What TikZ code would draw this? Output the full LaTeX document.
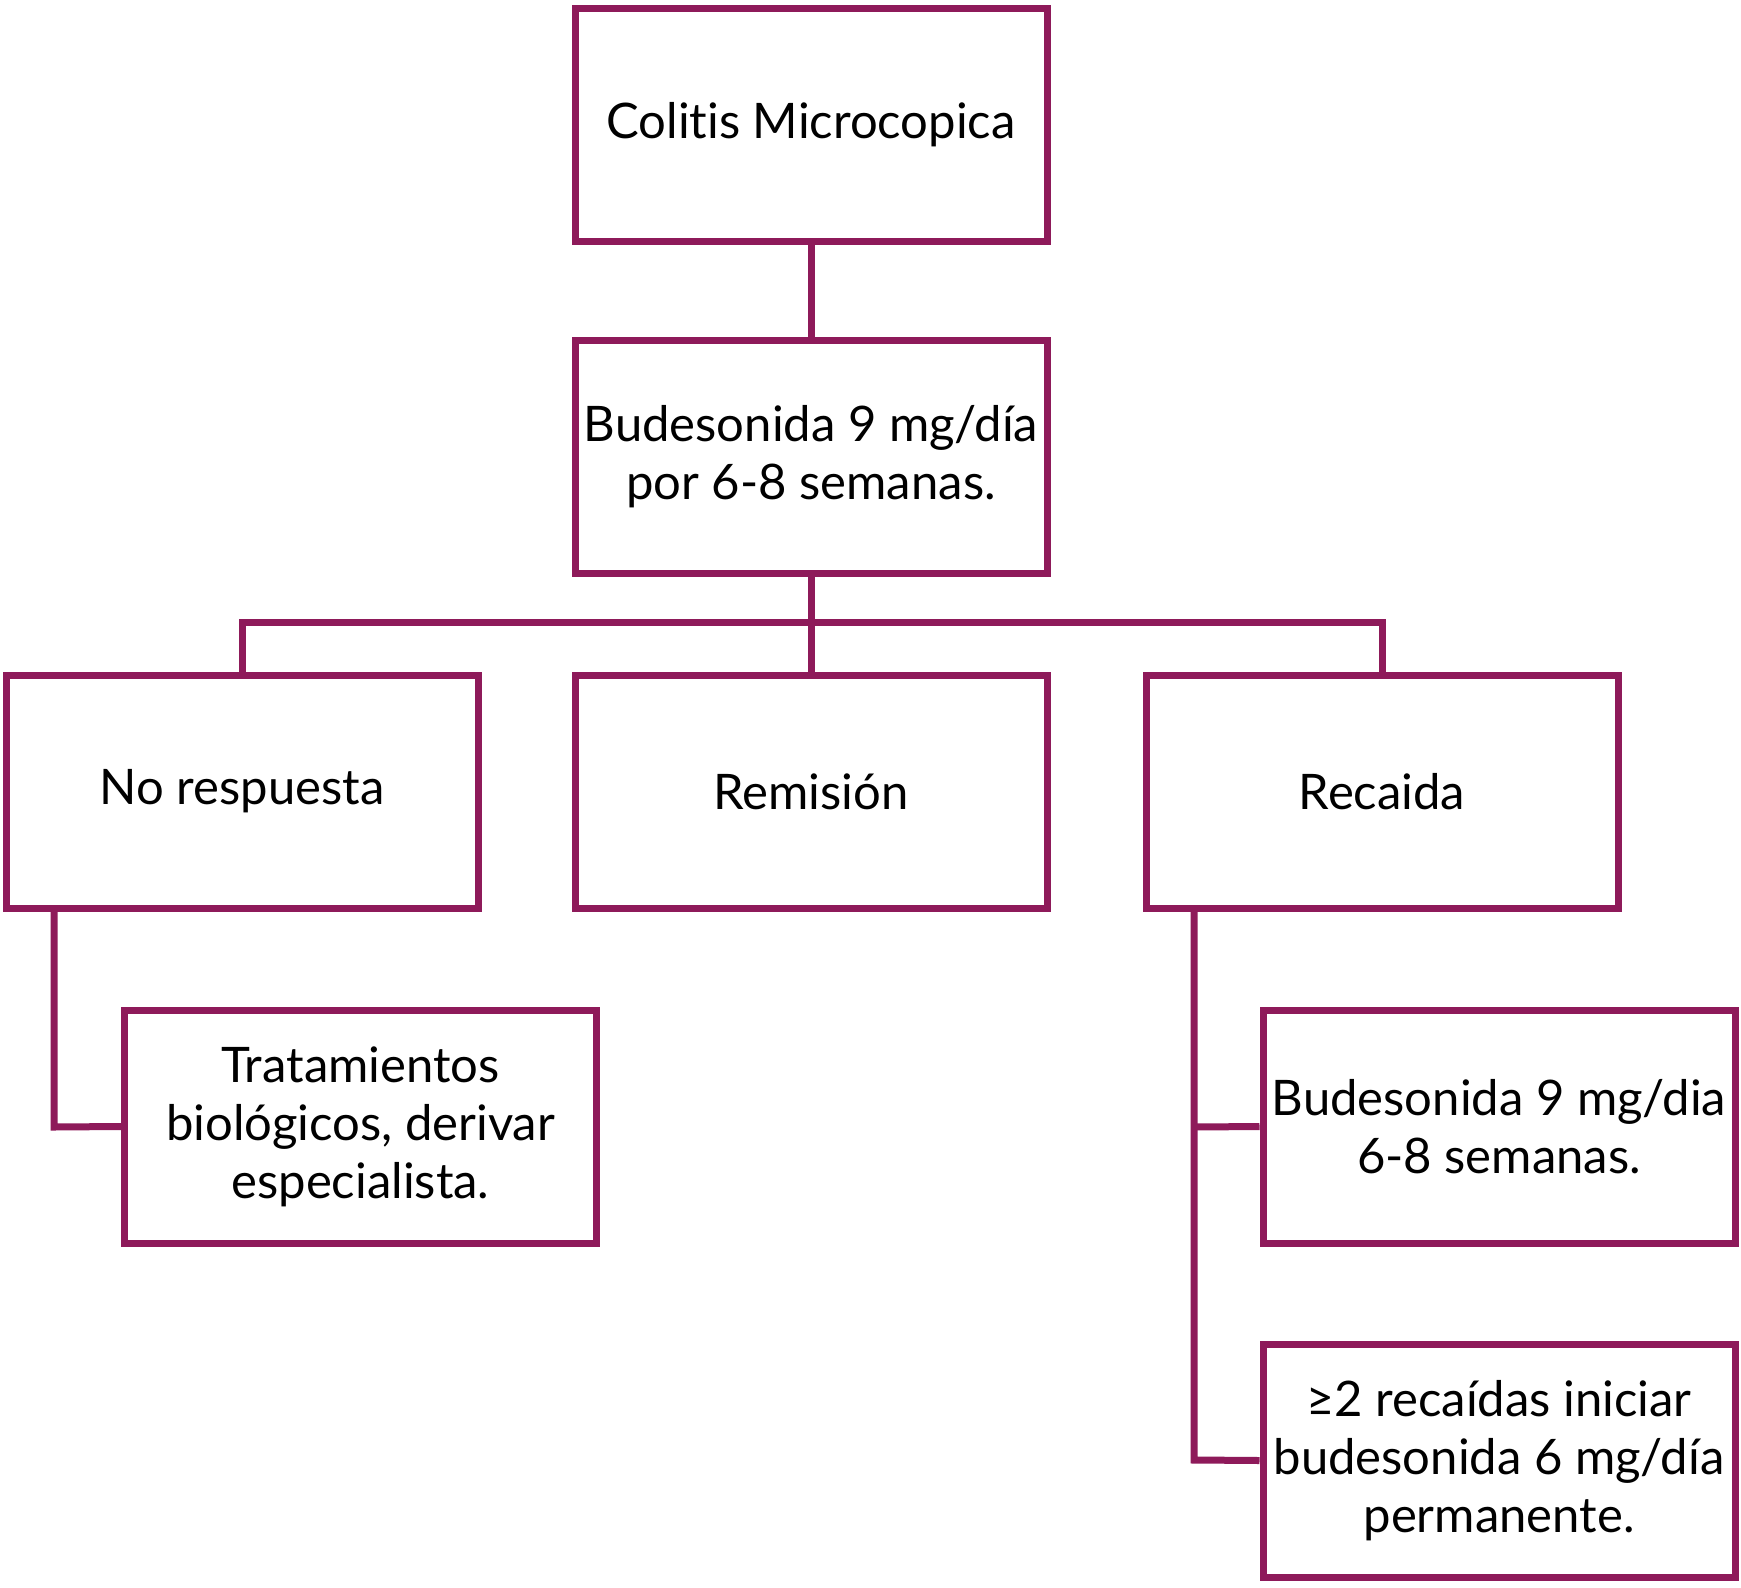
\documentclass[tikz,border=0pt]{standalone}
\usepackage{fontspec}
\setmainfont[Ligatures={NoCommon,NoRequired,NoContextual}]{Lato}
\definecolor{plum}{HTML}{8E1A5A}
\begin{document}
\begin{tikzpicture}[x=1pt,y=-1pt,
  box/.style={draw=plum,line width=7pt,fill=white,align=center,inner sep=2pt,
    minimum width=472pt,minimum height=233pt,font=\fontsize{49}{58}\selectfont},
  link/.style={draw=plum,line width=7pt}]
\useasboundingbox[fill=white] (0,0) rectangle (1741,1588);
\node[box] (top) at (811,124.5) {Colitis Microcopica};
\node[box] (bud) at (811,457) {Budesonida 9 mg/día\\por 6-8 semanas.};
\node[box] (nr) at (242,791.5) {No respuesta};
\node[box] (rem) at (811,791.5) {Remisión};
\node[box] (rec) at (1382,791.5) {Recaida};
\node[box] (trat) at (360.5,1126.5) {Tratamientos\\biológicos, derivar\\especialista.};
\node[box] (b9) at (1499,1126.5) {Budesonida 9 mg/dia\\6-8 semanas.};
\node[box] (ge2) at (1499,1460.5) {≥2 recaídas iniciar\\budesonida 6 mg/día\\permanente.};
\coordinate (bus) at (811,622);
\coordinate (nrTurn) at (54,1127);
\coordinate (recA) at (1194,1127);
\coordinate (recB) at (1194,1460);
\draw[link] (top.south) -- (bud.north);
\draw[link] (bud.south) -- (rem.north);
\draw[link] (nr.north) |- (bus) -| (rec.north);
\draw[link] (nr.south -| nrTurn) -- (nrTurn) -- (trat.west);
\draw[link] (rec.south -| recB) -- (recB) -- (ge2.west);
\draw[link] (recA) -- (b9.west);
\end{tikzpicture}
\end{document}
